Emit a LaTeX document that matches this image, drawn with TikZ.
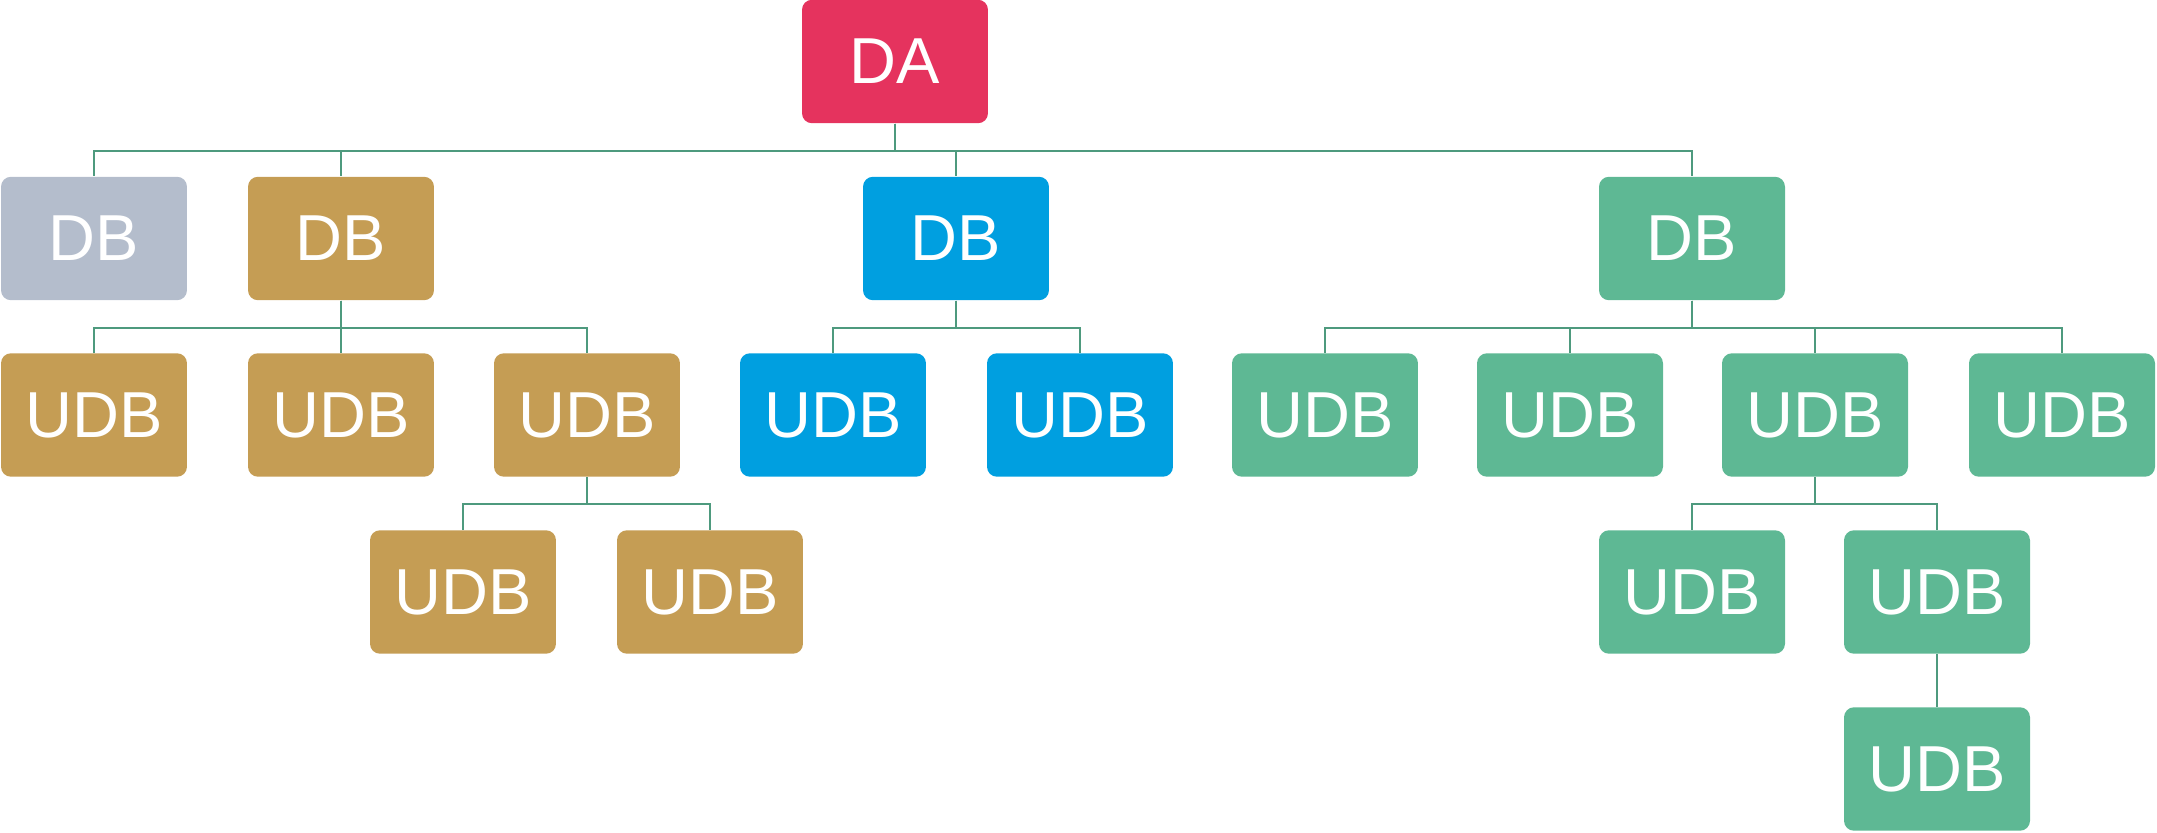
\documentclass[tikz,border=0pt]{standalone}
\usepackage{fontspec}
\setmainfont{Liberation Sans}
\usepackage{tikz}
\usetikzlibrary{calc}

\definecolor{rootred}{HTML}{E5335E}
\definecolor{slategray}{HTML}{B4BDCC}
\definecolor{sandgold}{HTML}{C59D54}
\definecolor{skyblue}{HTML}{009FE0}
\definecolor{mintgreen}{HTML}{5EB894}
\definecolor{linkgreen}{HTML}{4E9A7E}

\tikzset{
  dbbox/.style={rectangle, rounded corners=0.2cm, minimum width=3.72cm,
    minimum height=2.47cm, inner sep=0pt, text=white,
    font=\fontsize{37}{40}\selectfont},
  link/.style={draw=linkgreen, line width=1.1pt},
}

\begin{document}
\begin{tikzpicture}[x=0.02cm, y=-0.02cm]
  \useasboundingbox (0,0) rectangle (2157,832);

  % === ROOT ===
  \node[dbbox, fill=rootred] (da) at (895,61.5) {DA};

  % === DB ROW ===
  \node[dbbox, fill=slategray] (dbGray)  at (94,238.5)   {DB};
  \node[dbbox, fill=sandgold]  (dbGold)  at (341,238.5)  {DB};
  \node[dbbox, fill=skyblue]   (dbBlue)  at (956,238.5)  {DB};
  \node[dbbox, fill=mintgreen] (dbGreen) at (1692,238.5) {DB};

  % === UDB ROW ===
  \node[dbbox, fill=sandgold]  (udbGoldA)  at (94,415)   {UDB};
  \node[dbbox, fill=sandgold]  (udbGoldB)  at (341,415)  {UDB};
  \node[dbbox, fill=sandgold]  (udbGoldC)  at (587,415)  {UDB};
  \node[dbbox, fill=skyblue]   (udbBlueA)  at (833,415)  {UDB};
  \node[dbbox, fill=skyblue]   (udbBlueB)  at (1080,415) {UDB};
  \node[dbbox, fill=mintgreen] (udbGreenA) at (1325,415) {UDB};
  \node[dbbox, fill=mintgreen] (udbGreenB) at (1570,415) {UDB};
  \node[dbbox, fill=mintgreen] (udbGreenC) at (1815,415) {UDB};
  \node[dbbox, fill=mintgreen] (udbGreenD) at (2062,415) {UDB};

  % === SUB-UDB ROWS ===
  \node[dbbox, fill=sandgold]  (subGoldA)  at (463,592)  {UDB};
  \node[dbbox, fill=sandgold]  (subGoldB)  at (710,592)  {UDB};
  \node[dbbox, fill=mintgreen] (subGreenA) at (1692,592) {UDB};
  \node[dbbox, fill=mintgreen] (subGreenB) at (1937,592) {UDB};
  \node[dbbox, fill=mintgreen] (subGreenC) at (1937,769) {UDB};

  % Connectors (bus half way between rows)
  \foreach \child in {dbGray, dbGold, dbBlue, dbGreen}
    \draw[link] (da.south) -- ++(0,27) -| (\child.north);
  \foreach \child in {udbGoldA, udbGoldB, udbGoldC}
    \draw[link] (dbGold.south) -- ++(0,27) -| (\child.north);
  \foreach \child in {udbBlueA, udbBlueB}
    \draw[link] (dbBlue.south) -- ++(0,27) -| (\child.north);
  \foreach \child in {udbGreenA, udbGreenB, udbGreenC, udbGreenD}
    \draw[link] (dbGreen.south) -- ++(0,27) -| (\child.north);
  \foreach \child in {subGoldA, subGoldB}
    \draw[link] (udbGoldC.south) -- ++(0,27) -| (\child.north);
  \foreach \child in {subGreenA, subGreenB}
    \draw[link] (udbGreenC.south) -- ++(0,27) -| (\child.north);
  \draw[link] (subGreenB.south) -- (subGreenC.north);
\end{tikzpicture}
\end{document}
